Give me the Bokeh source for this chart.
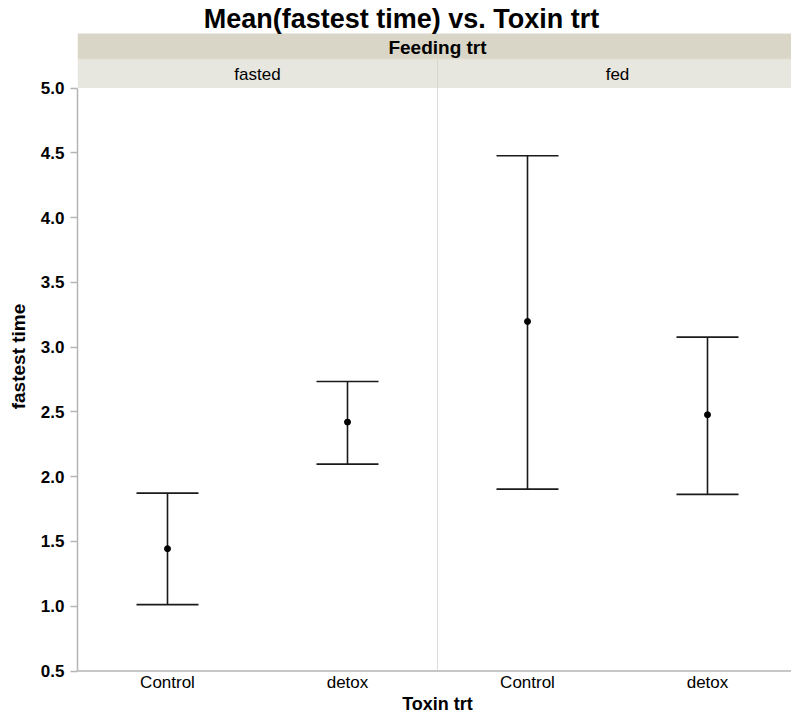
from bokeh.plotting import figure
from bokeh.models import (ColumnDataSource, Whisker, TeeHead, FixedTicker, Range1d)
from bokeh.core.properties import value
from bokeh.embed import file_html
from bokeh.resources import INLINE

# ---- data ----
feeding_levels = ["fasted", "fed"]
toxin_levels = ["Control", "detox"]
feeding = ["fasted", "fasted", "fed", "fed"]
toxin = ["Control", "detox", "Control", "detox"]
means = [1.444, 2.421, 3.198, 2.478]
upper = [1.873, 2.735, 4.477, 3.077]
lower = [1.012, 2.097, 1.904, 1.863]
y_ticks = [0.5, 1.0, 1.5, 2.0, 2.5, 3.0, 3.5, 4.0, 4.5, 5.0]

FONT = "Liberation Sans"
W, H = 791, 712
LEFT = 77
FRAME_W = W - LEFT
PX_PER_X = 180.0          # one category slot
Y0, Y1 = 0.5, 5.0
TOP_PX, BOT_PX = 87.5, 670.5   # pixel rows of 5.0 and 0.5
PX_PER_Y = (BOT_PX - TOP_PX) / (Y1 - Y0)

x_end = FRAME_W / PX_PER_X
y_end = Y1 + TOP_PX / PX_PER_Y
y_start = Y0 - (H - BOT_PX) / PX_PER_Y

def py(pix):  # pixel row -> data y
    return y_end - pix / PX_PER_Y

def px(pix):  # pixel column -> data x
    return (pix - LEFT) / PX_PER_X

n_t = len(toxin_levels)
# positions via category indices
xs = [feeding_levels.index(f) * n_t + toxin_levels.index(t) + 0.5
      for f, t in zip(feeding, toxin)]
src = ColumnDataSource(dict(x=xs, mean=means, upper=upper, lower=lower))

p = figure(width=W, height=H, output_backend="svg", toolbar_location=None,
           x_range=Range1d(0, x_end), y_range=Range1d(y_start, y_end),
           min_border_left=LEFT, min_border_right=0, min_border_top=0,
           min_border_bottom=0, outline_line_color=None)
p.grid.visible = False
p.background_fill_color = "white"
p.xaxis.visible = False

# header bands
p.quad(left=[0], right=[x_end], bottom=[py(58.5)], top=[py(33)],
       fill_color="#d9d6c7", line_color=None)
p.quad(left=[0], right=[x_end], bottom=[Y1], top=[py(59.5)],
       fill_color="#e7e7df", line_color=None)
p.segment(x0=[0], y0=[py(58.75)], x1=[x_end], y1=[py(58.75)],
          line_color="#e4e2d6", line_width=1.5)
# panel divider
p.segment(x0=[n_t], y0=[Y0], x1=[n_t], y1=[Y1], line_color="#dcdcdc", line_width=1)
p.segment(x0=[n_t], y0=[Y1], x1=[n_t], y1=[py(59.5)], line_color="#d6d6cc", line_width=1)
# x axis baseline
p.segment(x0=[0], y0=[Y0], x1=[x_end], y1=[Y0], line_color="#b5b5b5", line_width=1.5)

# header texts
p.text(x=[px(401)], y=[py(18)], text=["Mean(fastest time) vs. Toxin trt"],
       text_font=value(FONT), text_font_style="bold", text_font_size="27px",
       text_align="center", text_baseline="middle", text_color="black")
p.text(x=[n_t], y=[py(47)], text=["Feeding trt"],
       text_font=value(FONT), text_font_style="bold", text_font_size="19px",
       text_align="center", text_baseline="middle", text_color="black")
p.text(x=[i * n_t + n_t / 2 for i in range(len(feeding_levels))], y=[py(73.5)] * 2,
       text=feeding_levels, text_font=value(FONT), text_font_size="17px",
       text_align="center", text_baseline="middle", text_color="black")

# x tick labels and x axis title
p.text(x=xs, y=[py(682)] * len(xs), text=toxin, text_font=value(FONT),
       text_font_size="17px", text_align="center", text_baseline="middle",
       text_color="black")
p.text(x=[n_t], y=[py(703)], text=["Toxin trt"], text_font=value(FONT),
       text_font_style="bold", text_font_size="18px", text_align="center",
       text_baseline="middle", text_color="black")

# error bars
wh = Whisker(source=src, base="x", upper="upper", lower="lower", dimension="height",
             line_color="#1a1a1a", line_width=1.6,
             upper_head=TeeHead(size=62, line_color="#1a1a1a", line_width=1.6),
             lower_head=TeeHead(size=62, line_color="#1a1a1a", line_width=1.6))
p.add_layout(wh)
p.scatter("x", "mean", source=src, size=6, color="black")

# y axis
ya = p.yaxis[0]
ya.bounds = (Y0, Y1)
ya.ticker = FixedTicker(ticks=y_ticks)
ya.major_label_overrides = {t: f"{t:.1f}" for t in y_ticks}
ya.axis_line_color = "#b5b5b5"
ya.axis_line_width = 1.5
ya.major_tick_line_color = "#b5b5b5"
ya.major_tick_line_width = 1.5
ya.major_tick_in = 0
ya.major_tick_out = 7
ya.minor_tick_line_color = None
ya.major_label_text_font = FONT
ya.major_label_text_font_style = "bold"
ya.major_label_text_font_size = "17px"
ya.major_label_text_color = "black"
ya.major_label_standoff = 6
ya.axis_label = "fastest time"
ya.axis_label_text_font = FONT
ya.axis_label_text_font_style = "bold"
ya.axis_label_text_font_size = "19px"
ya.axis_label_text_color = "black"
ya.axis_label_standoff = 9

open("out.html", "w").write(file_html(p, INLINE))
